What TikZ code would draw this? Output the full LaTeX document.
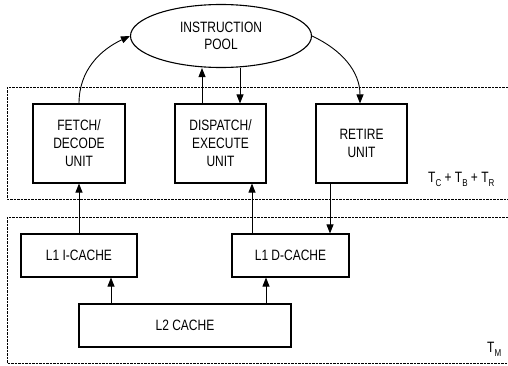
\documentclass[tikz,border=0pt]{standalone}
\usepackage{fontspec}
\setmainfont{Liberation Sans}[FakeStretch=0.8]
\usetikzlibrary{arrows.meta,shapes.geometric}
\tikzset{
  unitbox/.style={draw, line width=1.1pt, minimum height=79pt, minimum width=91pt, align=center, inner sep=0pt, font=\fontsize{15}{18}\selectfont},
  cachebox/.style={draw, line width=1.1pt, minimum height=43pt, align=center, inner sep=0pt, font=\fontsize{15}{18}\selectfont},
  pool/.style={draw, ellipse, line width=1.1pt, minimum width=181pt, minimum height=63pt, inner sep=0pt, align=center, font=\fontsize{15}{17}\selectfont},
  arr/.style={line width=0.9pt, -{Triangle[length=9pt,width=7pt]}},
  region/.style={line width=0.7pt, dash pattern=on 2.5pt off 1pt},
  lbl/.style={font=\fontsize{15}{17}\selectfont, inner sep=0pt}
}
\newcommand{\lowsub}[1]{\raisebox{-0.55ex}{\fontsize{10}{10}\selectfont #1}}
\begin{document}
\begin{tikzpicture}[x=1pt,y=1pt]
\useasboundingbox (0,0) rectangle (508,365);
% dashed regions
\draw[region] (508,278) -- (7,278) -- (7,166) -- (508,166);
\draw[region] (508,148) -- (7,148) -- (7,2) -- (508,2);
% nodes
\node[pool] (pool) at (221,329) {INSTRUCTION\\POOL};
\node[unitbox, minimum width=92pt] (fetch) at (79,221.5) {FETCH/\\DECODE\\UNIT};
\node[unitbox] (disp) at (220.5,221.5) {DISPATCH/\\EXECUTE\\UNIT};
\node[unitbox] (ret) at (361.5,221.5) {RETIRE\\UNIT};
\node[cachebox, minimum width=116pt] (l1i) at (79,109.5) {L1 I-CACHE};
\node[cachebox, minimum width=117pt] (l1d) at (290.5,109.5) {L1 D-CACHE};
\node[cachebox, minimum width=212pt] (l2) at (185,39.5) {L2 CACHE};
\node[lbl, anchor=base west] (tcbr) at (428,183) {T\lowsub{C} + T\lowsub{B} + T\lowsub{R}};
\node[lbl, anchor=base west] (tm) at (487,13) {T\lowsub{M}};
% connectors
\draw[arr] (fetch.north) to[out=90,in=205] (pool.west);
\draw[arr] (pool.east) to[out=-25,in=90] ([xshift=-1.5pt]ret.north);
\draw[arr] ([xshift=-18.5pt]disp.north) -- ([xshift=-18.5pt]disp.north |- pool.south);
\draw[arr] ([xshift=19.5pt]disp.north |- pool.south) -- ([xshift=19.5pt]disp.north);
\draw[arr] (l1i.north) -- (fetch.south);
\draw[arr] ([xshift=31.5pt]disp.south |- l1d.north) -- ([xshift=31.5pt]disp.south);
\draw[arr] ([xshift=-31.5pt]ret.south) -- ([xshift=-31.5pt]ret.south |- l1d.north);
\draw[arr] ([xshift=-74pt]l2.north) -- ([xshift=-74pt]l2.north |- l1i.south);
\draw[arr] ([xshift=81pt]l2.north) -- ([xshift=81pt]l2.north |- l1d.south);
\end{tikzpicture}
\end{document}
